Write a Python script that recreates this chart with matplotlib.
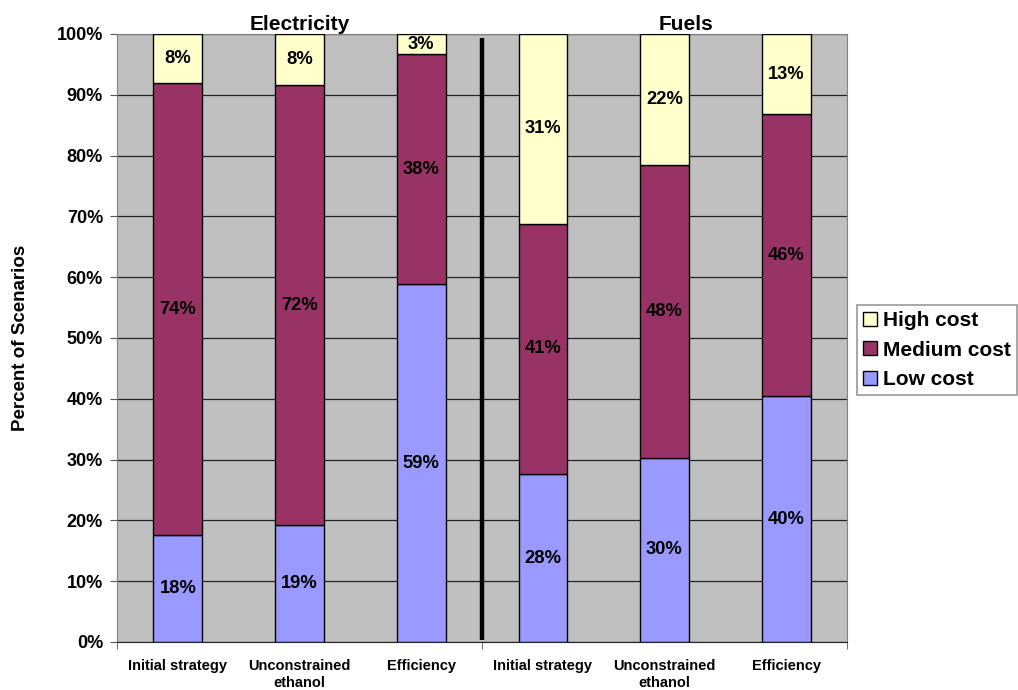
import matplotlib
matplotlib.use("Agg")
import matplotlib.pyplot as plt
import numpy as np
from matplotlib.patches import Patch
from matplotlib.transforms import blended_transform_factory

plt.rcParams['font.family'] = ['Liberation Sans', 'DejaVu Sans']
plt.rcParams['font.weight'] = 'bold'

categories = ["Initial strategy", "Unconstrained\nethanol", "Efficiency",
              "Initial strategy", "Unconstrained\nethanol", "Efficiency"]
low_cost = [17.6, 19.2, 58.8, 27.6, 30.3, 40.4]
medium_cost = [74.3, 72.4, 37.9, 41.2, 48.1, 46.4]
high_cost = [8.1, 8.4, 3.3, 31.2, 21.6, 13.2]
group_titles = ["Electricity", "Fuels"]
series_names = ["Low cost", "Medium cost", "High cost"]
colors = ["#9999FF", "#993366", "#FFFFCC"]

fig = plt.figure(figsize=(10.18, 6.90), dpi=100)
ax = fig.add_axes([117/1018, 48/690, 730/1018, 608/690])
ax.set_facecolor("#C0C0C0")

x = np.arange(len(categories))
width = 0.4
bottom = np.zeros(len(categories))
for vals, col in zip([low_cost, medium_cost, high_cost], colors):
    vals = np.array(vals)
    ax.bar(x, vals, width, bottom=bottom, color=col, edgecolor="black",
           linewidth=1.0, zorder=3)
    for xi, b, v in zip(x, bottom, vals):
        ax.text(xi, b + v / 2, f"{v:.0f}%", ha="center", va="center",
                fontsize=13.2, fontweight="bold", zorder=4)
    bottom += vals

ax.set_xlim(-0.5, len(categories) - 0.5)
ax.set_ylim(0, 100)
ax.set_yticks(np.arange(0, 101, 10))
ax.set_yticklabels([f"{v}%" for v in range(0, 101, 10)], fontsize=13, fontweight="bold")
ax.yaxis.grid(True, color="#222222", linewidth=0.9, zorder=1)
ax.set_axisbelow(True)

ax.set_xticks(x)
ax.set_xticklabels(categories, fontsize=10.5, fontweight="bold", linespacing=1.3)
ax.tick_params(axis="x", length=0, pad=12)
ax.set_xticks([-0.5, 2.5, 5.5], minor=True)
ax.tick_params(axis="x", which="minor", length=5, color="#555555")
ax.tick_params(axis="y", length=5, color="#555555", pad=5)

for s in ["left", "right", "top"]:
    ax.spines[s].set_color("#808080")
ax.spines["bottom"].set_color("#222222")

# Separator line
ax.plot([2.5, 2.5], [0.3, 99.3], color="black", linewidth=3.2, zorder=5,
        solid_capstyle="butt")

# Group titles
tr = blended_transform_factory(ax.transData, fig.transFigure)
fig.text(1.0, 1 - 30/690, group_titles[0], transform=tr, ha="center",
         va="baseline", fontsize=15, fontweight="bold")
fig.text(4.18, 1 - 30/690, group_titles[1], transform=tr, ha="center",
         va="baseline", fontsize=15, fontweight="bold")

# Y axis label
fig.text(21/1018, 1 - 338/690, "Percent of Scenarios", rotation=90,
         ha="center", va="center", fontsize=13.5, fontweight="bold")

handles = [Patch(facecolor=c, edgecolor="black", linewidth=1) for c in colors[::-1]]
leg = fig.legend(handles, series_names[::-1], loc="upper left",
                 bbox_to_anchor=(857/1018, 1 - 305/690), fontsize=15,
                 frameon=True, fancybox=False, handlelength=0.65,
                 handleheight=0.65, handletextpad=0.3, labelspacing=0.5,
                 borderpad=0.3, borderaxespad=0)
leg.get_frame().set_edgecolor("#808080")
leg.get_frame().set_linewidth(1.2)
for t in leg.get_texts():
    t.set_fontweight("bold")

fig.savefig("out.png", dpi=100)
